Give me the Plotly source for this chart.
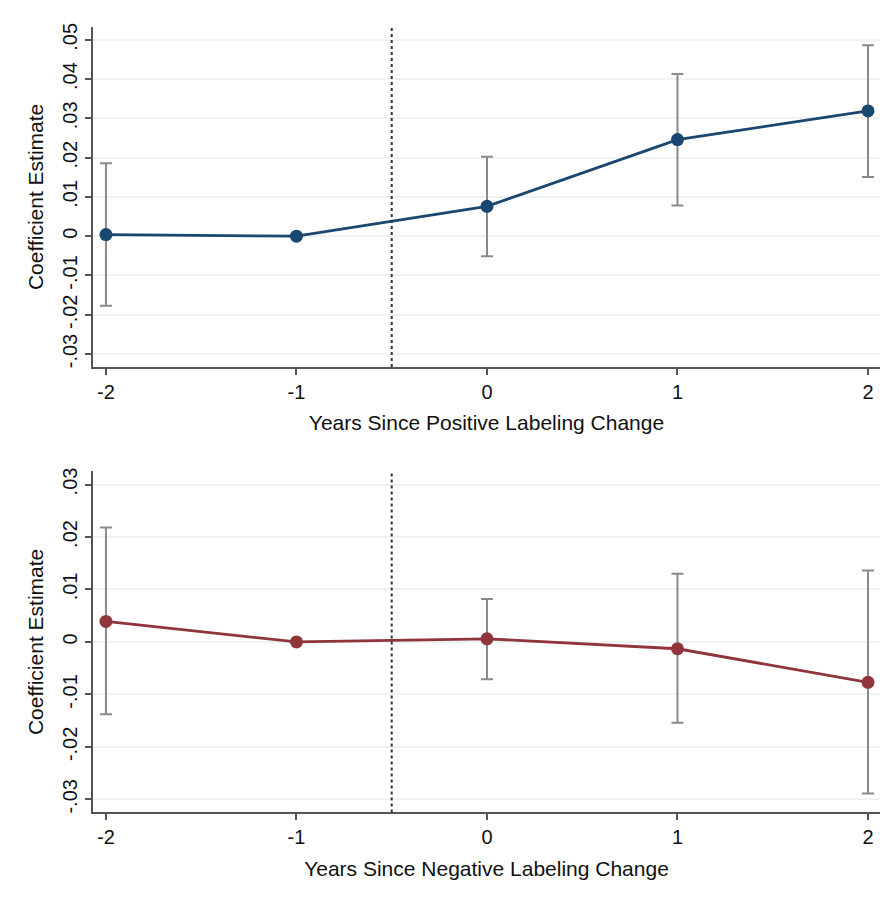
import plotly.graph_objects as go

years = [-2, -1, 0, 1, 2]
tick_labels_x = ["-2", "-1", "0", "1", "2"]

pos_coef = [0.0004, 0.0, 0.0076, 0.0246, 0.0319]
pos_hi = [0.0186, None, 0.0202, 0.0413, 0.0486]
pos_lo = [-0.0177, None, -0.0051, 0.0078, 0.0151]

neg_coef = [0.0039, 0.0, 0.0006, -0.0013, -0.0077]
neg_hi = [0.0218, None, 0.0082, 0.0130, 0.0136]
neg_lo = [-0.0138, None, -0.0071, -0.0154, -0.0289]

pos_yticks = [-0.03, -0.02, -0.01, 0, 0.01, 0.02, 0.03, 0.04, 0.05]
pos_ytext = ["-.03", "-.02", "-.01", "0", ".01", ".02", ".03", ".04", ".05"]
neg_yticks = [-0.03, -0.02, -0.01, 0, 0.01, 0.02, 0.03]
neg_ytext = ["-.03", "-.02", "-.01", "0", ".01", ".02", ".03"]

event_line = -0.5

W, H = 883, 897
FONT = "Liberation Sans, Arial, sans-serif"

def err(coef, hi, lo):
    plus = [(h - c) if h is not None else 0 for c, h in zip(coef, hi)]
    minus = [(c - l) if l is not None else 0 for c, l in zip(coef, lo)]
    vis = [h is not None for h in hi]
    return plus, minus, vis

fig = go.Figure()

for coef, hi, lo, color, xa, ya in [
    (pos_coef, pos_hi, pos_lo, "#1a476f", "x", "y"),
    (neg_coef, neg_hi, neg_lo, "#90353b", "x2", "y2"),
]:
    plus, minus, vis = err(coef, hi, lo)
    xs = [x for x, v in zip(years, vis) if v]
    cs = [c for c, v in zip(coef, vis) if v]
    ps = [p for p, v in zip(plus, vis) if v]
    ms = [m for m, v in zip(minus, vis) if v]
    fig.add_trace(go.Scatter(
        x=xs, y=cs, mode="markers", marker=dict(size=1, color="rgba(0,0,0,0)"),
        error_y=dict(type="data", array=ps, arrayminus=ms, color="#8a8a8a",
                     thickness=2, width=6),
        xaxis=xa, yaxis=ya, showlegend=False, hoverinfo="skip"))
    fig.add_trace(go.Scatter(
        x=years, y=coef, mode="lines+markers",
        line=dict(color=color, width=2.8),
        marker=dict(color=color, size=13),
        xaxis=xa, yaxis=ya, showlegend=False))

def px_y(top, bottom):
    return [(H - bottom) / H, (H - top) / H]

xdom = [93 / W, 880 / W]
axis_common = dict(
    showline=True, linecolor="#555555", linewidth=1.5,
    ticks="outside", ticklen=6, tickcolor="#555555", tickwidth=1.5,
    tickfont=dict(family=FONT, size=20, color="#111111"),
    zeroline=False,
)
TITLE_SIZE = 21

fig.update_layout(
    width=W, height=H,
    margin=dict(l=0, r=0, t=0, b=0),
    paper_bgcolor="white", plot_bgcolor="white",
    font=dict(family=FONT, color="#111111"),
    xaxis=dict(domain=xdom, anchor="y", range=[-2.068, 2.063],
               tickvals=years, ticktext=tick_labels_x, showgrid=False,
               title=dict(text="Years Since Positive Labeling Change",
                          font=dict(family=FONT, size=TITLE_SIZE), standoff=14),
               **axis_common),
    yaxis=dict(domain=px_y(23, 365), anchor="x", range=[-0.0333, 0.0533],
               tickvals=pos_yticks, ticktext=pos_ytext, tickangle=-90,
               showgrid=True, gridcolor="#edf2f3", gridwidth=1.5,
               title=dict(text="Coefficient Estimate",
                          font=dict(family=FONT, size=TITLE_SIZE), standoff=10),
               **axis_common),
    xaxis2=dict(domain=xdom, anchor="y2", range=[-2.068, 2.063],
                tickvals=years, ticktext=tick_labels_x, showgrid=False,
                title=dict(text="Years Since Negative Labeling Change",
                           font=dict(family=FONT, size=TITLE_SIZE), standoff=14),
                **axis_common),
    yaxis2=dict(domain=px_y(470, 813), anchor="x2", range=[-0.0325, 0.0325],
                tickvals=neg_yticks, ticktext=neg_ytext, tickangle=-90,
                showgrid=True, gridcolor="#edf2f3", gridwidth=1.5,
                title=dict(text="Coefficient Estimate",
                           font=dict(family=FONT, size=TITLE_SIZE), standoff=10),
                **axis_common),
    shapes=[
        dict(type="line", xref="x", yref="y domain", x0=event_line, x1=event_line,
             y0=0, y1=1, line=dict(color="#333333", width=2, dash="dot")),
        dict(type="line", xref="x2", yref="y2 domain", x0=event_line, x1=event_line,
             y0=0, y1=1, line=dict(color="#333333", width=2, dash="dot")),
    ],
)

fig.write_html("out.html", config={"displayModeBar": False},
               post_script="document.body.style.margin='0';document.body.style.overflow='hidden';")
